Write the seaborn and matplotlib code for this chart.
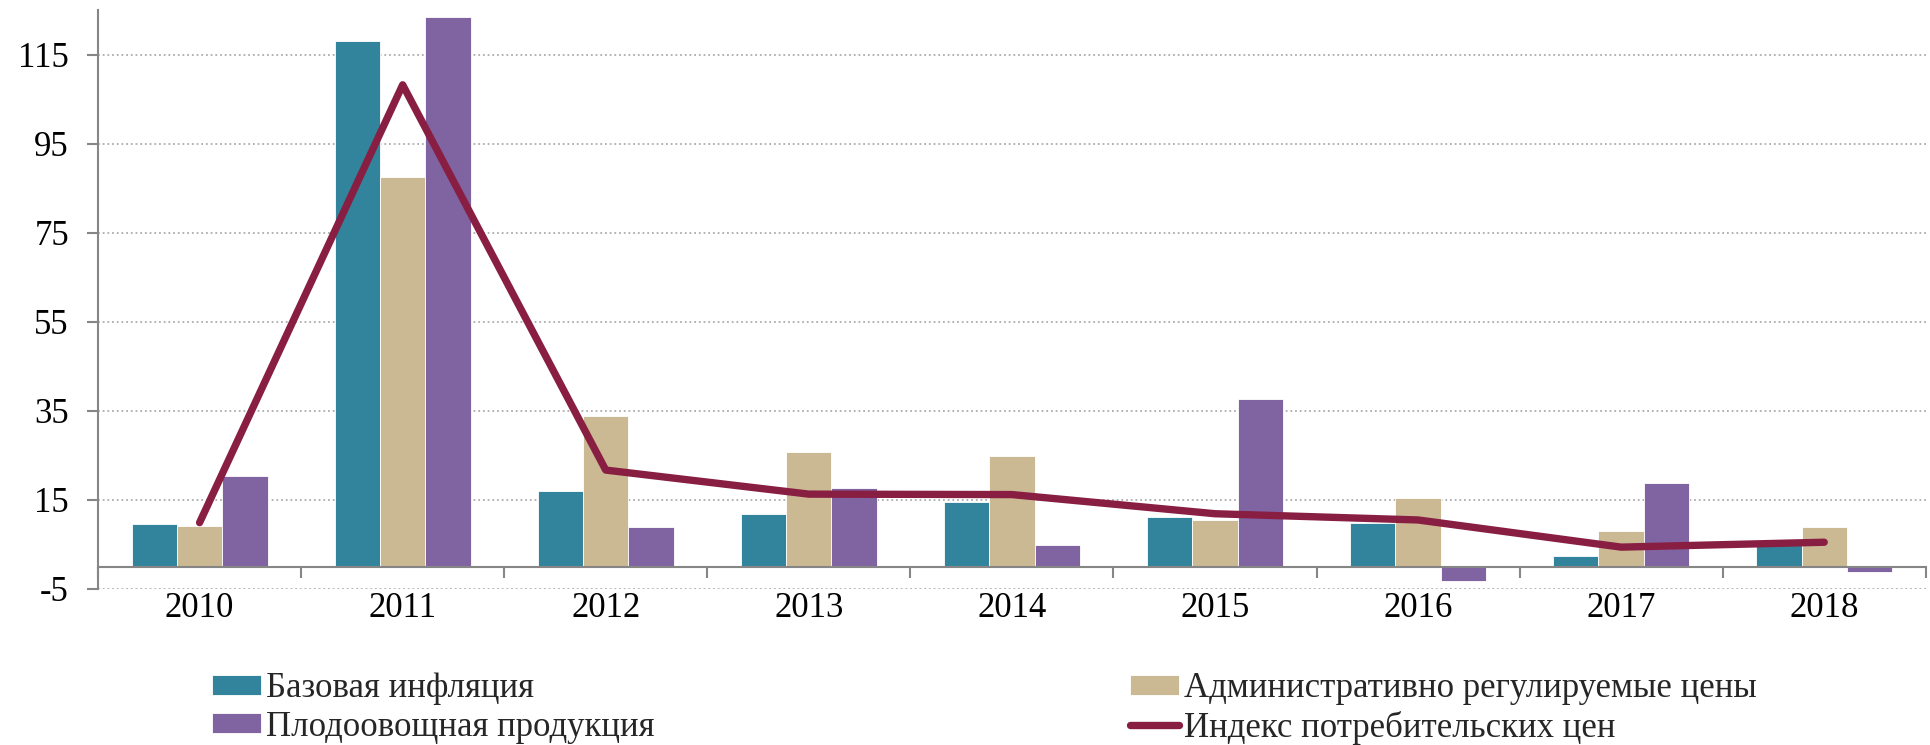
import numpy as np
import pandas as pd
import matplotlib
matplotlib.use('Agg')
import matplotlib.pyplot as plt
import seaborn as sns

# Values
years = ['2010', '2011', '2012', '2013', '2014', '2015', '2016', '2017', '2018']
core = [9.5, 118.1, 16.9, 11.9, 14.5, 11.1, 9.8, 2.4, 5.0]
admin = [9.1, 87.5, 33.8, 25.7, 24.8, 10.6, 15.4, 8.0, 8.9]
fruit = [20.3, 123.5, 9.0, 17.7, 4.9, 37.7, -3.2, 18.9, -1.1]
cpi = [9.9, 108.2, 21.7, 16.3, 16.2, 11.9, 10.5, 4.4, 5.5]

names = ['Базовая инфляция', 'Административно регулируемые цены',
         'Плодоовощная продукция']
cpi_name = 'Индекс потребительских цен'
y_ticks = [-5, 15, 35, 55, 75, 95, 115]

colors = ['#31849B', '#CBB994', '#8064A2']
line_color = '#891E43'
axis_gray = '#868686'

bar_df = pd.DataFrame({
    'year': years * 3,
    'value': core + admin + fruit,
    'series': [names[0]] * 9 + [names[1]] * 9 + [names[2]] * 9,
})

sns.set_theme(style='white')
plt.rcParams['font.family'] = ['Liberation Serif', 'DejaVu Serif']
plt.rcParams['axes.unicode_minus'] = False

fig = plt.figure(figsize=(19.3, 7.45), dpi=100)
ax = fig.add_axes([0.0508, 0.2094, 0.947, 0.7772])

sns.barplot(data=bar_df, x='year', y='value', hue='series', hue_order=names,
            order=years, palette=colors, saturation=1, width=0.67, gap=0,
            edgecolor='white', linewidth=0.6, errorbar=None, ax=ax)
leg = ax.get_legend()
bar_handles = list(leg.legend_handles)
leg.remove()

sns.lineplot(x=np.arange(len(years)), y=cpi, color=line_color, linewidth=5.3,
             solid_capstyle='round', solid_joinstyle='round', ax=ax,
             legend=False)
cpi_line = ax.lines[-1]

ax.set_xlim(-0.5, len(years) - 0.5)
ax.set_ylim(-5, 125)
ax.set_xlabel('')
ax.set_ylabel('')

# y axis
ax.set_yticks(y_ticks)
ax.yaxis.grid(True, color='#ADADAD', linestyle=(0, (1, 1.6)), linewidth=1.3)
ax.set_axisbelow(True)
ax.tick_params(axis='y', length=8, width=1.5, color=axis_gray, pad=13,
               labelsize=25, labelcolor='black', left=True)

# zero line with ticks between categories
ax.spines['bottom'].set_position(('data', 0))
ax.set_xticks(np.arange(-0.5, len(years), 1))
ax.set_xticklabels([])
ax.tick_params(axis='x', length=8, width=1.5, color=axis_gray,
               direction='out', bottom=True)
for side in ['bottom', 'left']:
    ax.spines[side].set_color(axis_gray)
    ax.spines[side].set_linewidth(1.5)
for side in ['top', 'right']:
    ax.spines[side].set_visible(False)

# year labels below the plot area
secax = ax.secondary_xaxis('bottom')
secax.set_xticks(range(len(years)), labels=years)
secax.tick_params(length=0, pad=2, labelsize=25, labelcolor='black')
secax.spines['bottom'].set_visible(False)

legend_kw = dict(loc='upper left', frameon=False, fontsize=25, borderpad=0,
                 borderaxespad=0, handlelength=1.41, handleheight=0.52,
                 handletextpad=0.14, labelspacing=0.16)
fig.legend(handles=[bar_handles[0], bar_handles[2]], labels=[names[0], names[2]],
           bbox_to_anchor=(0.1098, 0.098), **legend_kw)
fig.legend(handles=[bar_handles[1], cpi_line], labels=[names[1], cpi_name],
           bbox_to_anchor=(0.5855, 0.098), **legend_kw)

fig.savefig('out.png', dpi=100)
